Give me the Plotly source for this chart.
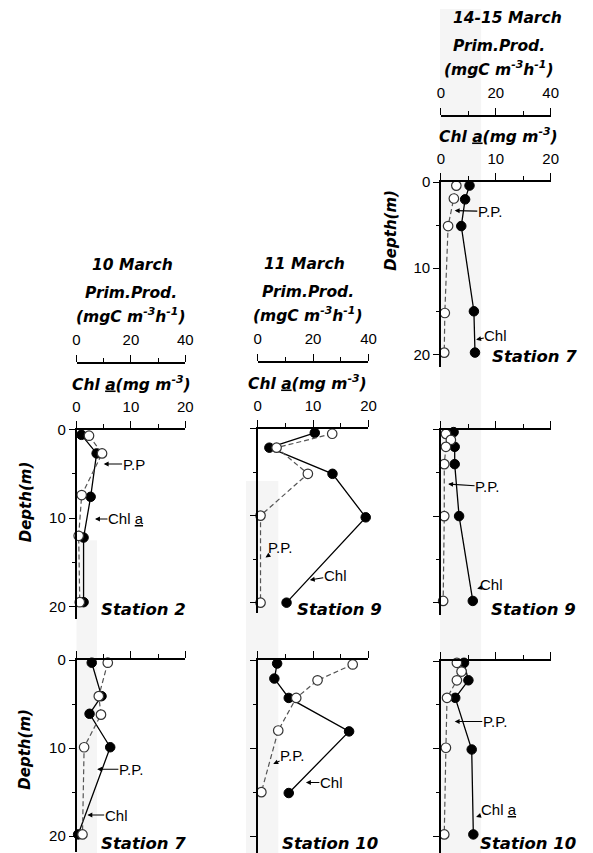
import plotly.graph_objects as go

W, H = 593, 853
FONT = "Liberation Sans, Arial, Helvetica, sans-serif"
BFONT = "DejaVu Sans, Verdana, sans-serif"

# ---------------- data ----------------
dates = ["10 March", "11 March", "14-15 March"]
stations = ["Station 2", "Station 7", "Station 9", "Station 10", "Station 7", "Station 9", "Station 10"]

# 10 March, Station 2
m10_st2_chl_depth = [0.6, 2.7, 7.6, 12.2, 19.5]
m10_st2_chl = [0.9, 3.7, 2.6, 1.3, 1.3]
m10_st2_pp_depth = [0.7, 2.7, 7.4, 12.0, 19.5]
m10_st2_pp = [4.6, 9.4, 1.9, 0.8, 1.2]

# 10 March, Station 7
m10_st7_chl_depth = [0.3, 4.1, 6.1, 9.9, 19.8]
m10_st7_chl = [2.8, 4.6, 2.4, 6.2, 0.3]
m10_st7_pp_depth = [0.3, 4.1, 6.2, 9.9, 19.8]
m10_st7_pp = [11.5, 8.2, 9.0, 2.8, 2.2]

# 11 March, Station 9
m11_st9_chl_depth = [0.5, 2.2, 5.2, 10.2, 20.0]
m11_st9_chl = [10.3, 2.1, 13.5, 19.5, 5.2]
m11_st9_pp_depth = [0.6, 2.2, 5.2, 10.0, 20.0]
m11_st9_pp = [26.9, 6.8, 18.1, 1.0, 1.0]

# 11 March, Station 10
m11_st10_chl_depth = [0.4, 2.1, 4.3, 8.1, 15.1]
m11_st10_chl = [3.5, 3.0, 5.6, 16.5, 5.6]
m11_st10_pp_depth = [0.5, 2.3, 4.3, 8.0, 15.0]
m11_st10_pp = [34.3, 21.6, 13.9, 7.4, 1.3]

# 14-15 March, Station 7
m14_st7_chl_depth = [0.4, 2.0, 5.1, 15.0, 19.8]
m14_st7_chl = [5.2, 4.4, 3.7, 6.0, 6.2]
m14_st7_pp_depth = [0.4, 1.9, 5.1, 15.2, 19.8]
m14_st7_pp = [5.6, 4.7, 2.6, 1.4, 1.2]

# 14-15 March, Station 9
m14_st9_chl_depth = [0.3, 2.0, 4.0, 10.0, 19.8]
m14_st9_chl = [2.3, 2.5, 2.5, 3.3, 5.8]
m14_st9_pp_depth = [0.5, 1.2, 2.0, 4.0, 10.0, 19.8]
m14_st9_pp = [1.8, 3.6, 1.8, 1.2, 1.2, 0.8]

# 14-15 March, Station 10
m14_st10_chl_depth = [0.2, 2.2, 4.2, 10.1, 19.8]
m14_st10_chl = [4.2, 5.0, 2.6, 5.6, 5.9]
m14_st10_pp_depth = [0.2, 1.2, 2.2, 4.2, 9.9, 19.8]
m14_st10_pp = [5.8, 7.5, 5.8, 2.2, 1.8, 1.2]

chl_ticks = [0, 10, 20]
chl_minor = [5, 15]
pp_ticks = [0, 20, 40]
pp_minor = [10, 30]
depth_ticks = [0, 10, 20]
depth_minor = [5, 15]

# ---------------- layout geometry (pixels) ----------------
cols = [
    dict(x0=74, x20=185, cx=130, tx=131),
    dict(x0=259, x20=372, cx=310, tx=307),
    dict(x0=446, x20=558, cx=505, tx=514),
]

# notes: (label, text centre x, text y, arrow head x, arrow head y)  [Chl units, m]
panels = [
    dict(col=0, chl_d=m10_st2_chl_depth, chl=m10_st2_chl, pp_d=m10_st2_pp_depth, pp=m10_st2_pp,
         y0=425, y20=604, yend=616, top=True, ylab=True, depth=(22, 498), st=(142, 607),
         notes=[("P.P", 10.5, 3.9, 5.0, 3.9), ("Chl <u>a</u>", 9.1, 10.1, 3.4, 10.1)]),
    dict(col=0, chl_d=m10_st7_chl_depth, chl=m10_st7_chl, pp_d=m10_st7_pp_depth, pp=m10_st7_pp,
         y0=658, y20=836, yend=852, top=False, ylab=True, depth=(22, 748), st=(142, 843),
         notes=[("P.P.", 10.0, 12.4, 3.8, 12.4), ("Chl", 7.3, 17.6, 2.0, 17.6)]),
    dict(col=1, chl_d=m11_st9_chl_depth, chl=m11_st9_chl, pp_d=m11_st9_pp_depth, pp=m11_st9_pp,
         y0=424, y20=600, yend=610, top=True, ylab=False, depth=None, st=(342, 607),
         notes=[("P.P.", 4.1, 13.7, 1.4, 14.8), ("Chl", 14.0, 16.9, 9.4, 17.4)]),
    dict(col=1, chl_d=m11_st10_chl_depth, chl=m11_st10_chl, pp_d=m11_st10_pp_depth, pp=m11_st10_pp,
         y0=658, y20=836, yend=853, top=False, ylab=False, depth=None, st=(333, 843),
         notes=[("P.P.", 6.2, 10.8, 2.8, 11.8), ("Chl", 13.3, 13.9, 8.7, 13.9)]),
    dict(col=2, chl_d=m14_st7_chl_depth, chl=m14_st7_chl, pp_d=m14_st7_pp_depth, pp=m14_st7_pp,
         y0=175, y20=349, yend=362, top=True, ylab=True, depth=(395, 224), st=(541, 351),
         notes=[("P.P.", 8.9, 3.4, 2.5, 3.3), ("Chl", 10.0, 17.8, 6.4, 18.3)]),
    dict(col=2, chl_d=m14_st9_chl_depth, chl=m14_st9_chl, pp_d=m14_st9_pp_depth, pp=m14_st9_pp,
         y0=425, y20=600, yend=612, top=False, ylab=False, depth=None, st=(540, 607),
         notes=[("P.P.", 8.4, 6.6, 1.3, 6.3), ("Chl", 9.2, 17.9, 6.6, 18.4)]),
    dict(col=2, chl_d=m14_st10_chl_depth, chl=m14_st10_chl, pp_d=m14_st10_pp_depth, pp=m14_st10_pp,
         y0=659, y20=836, yend=853, top=False, ylab=False, depth=None, st=(535, 843),
         notes=[("P.P.", 9.8, 6.9, 2.5, 6.9), ("Chl <u>a</u>", 10.6, 17.0, 6.4, 17.8)]),
]

fig = go.Figure()
layout = {}
annotations = []
shapes = []


def px(x):
    return x / W


def py(y):
    return 1 - y / H


def ax_name(kind, k):
    return (kind + "axis") if k == 1 else f"{kind}axis{k}"


def ax_ref(kind, k):
    return kind if k == 1 else f"{kind}{k}"


tickfont = dict(family=FONT, size=15, color="black")
line_kw = dict(showline=True, linecolor="black", linewidth=1.5, showgrid=False, zeroline=False,
               ticks="outside", tickcolor="black", tickwidth=1.3, fixedrange=True)

# faint scanning bands
for (bx0, bx1, by0, by1) in [(74, 95, 537, 853), (247, 280, 477, 853), (445, 487, 0, 853)]:
    shapes.append(dict(type="rect", xref="paper", yref="paper", x0=px(bx0), x1=px(bx1),
                       y0=py(by1), y1=py(by0), fillcolor="rgba(0,0,0,0.04)", line=dict(width=0),
                       layer="below"))

for i, p in enumerate(panels):
    n = i + 1
    c = cols[p["col"]]
    kx, kp, ky = 2 * n - 1, 2 * n, n
    xr, pr, yr = ax_ref("x", kx), ax_ref("x", kp), ax_ref("y", ky)
    s = (p["y20"] - p["y0"]) / 20.0
    ybot = (p["yend"] - p["y0"]) / s
    dom_x = [px(c["x0"]), px(c["x20"])]

    layout[ax_name("x", kx)] = dict(
        domain=dom_x, range=[0, 20], anchor=yr, side="top", tickvals=chl_ticks,
        showticklabels=p["top"], tickfont=tickfont, ticklen=7, ticklabelstandoff=3,
        minor=dict(tickvals=chl_minor, ticks="outside", ticklen=4, tickwidth=1.3, tickcolor="black"),
        **line_kw)
    if p["top"]:
        layout[ax_name("x", kp)] = dict(
            domain=dom_x, overlaying=xr, range=[0, 40], anchor="free", position=py(p["y0"] - 67),
            side="top", tickvals=pp_ticks, tickfont=tickfont, ticklen=7, ticklabelstandoff=4,
            minor=dict(tickvals=pp_minor, ticks="outside", ticklen=4, tickwidth=1.3, tickcolor="black"),
            **line_kw)
    else:
        layout[ax_name("x", kp)] = dict(domain=dom_x, overlaying=xr, range=[0, 40], anchor=yr,
                                        visible=False, fixedrange=True)
    layout[ax_name("y", ky)] = dict(
        domain=[py(p["yend"]), py(p["y0"])], range=[ybot, 0], anchor=xr, side="left",
        tickvals=depth_ticks, showticklabels=p["ylab"], tickfont=tickfont, ticklen=6,
        minor=dict(tickvals=depth_minor, ticks="outside", ticklen=3, tickwidth=1.3, tickcolor="black"),
        **line_kw)

    fig.add_trace(go.Scatter(
        x=p["chl"], y=p["chl_d"], xaxis=xr, yaxis=yr, mode="lines+markers", cliponaxis=False,
        line=dict(color="black", width=1.3),
        marker=dict(size=9.5, color="black", line=dict(color="black", width=1)),
        showlegend=False, hoverinfo="skip"))
    fig.add_trace(go.Scatter(
        x=p["pp"], y=p["pp_d"], xaxis=pr, yaxis=yr, mode="lines+markers", cliponaxis=False,
        line=dict(color="#555555", width=1.2, dash="5px,3px"),
        marker=dict(size=9.5, color="white", line=dict(color="#333333", width=1.2)),
        showlegend=False, hoverinfo="skip"))

    for (txt, tx, ty, hx, hy) in p["notes"]:
        annotations.append(dict(xref=xr, yref=yr, x=hx, y=hy, ax=tx, ay=ty, axref=xr, ayref=yr,
                                text=txt, showarrow=True, arrowhead=2, arrowsize=0.9,
                                arrowwidth=1.1, arrowcolor="black", standoff=0, borderpad=0,
                                font=dict(family=FONT, size=15, color="black")))

    sx, sy = p["st"]
    annotations.append(dict(xref="paper", yref="paper", x=px(sx), y=py(sy),
                            text=f"<b><i>{stations[i]}</i></b>", showarrow=False,
                            xanchor="center", yanchor="middle",
                            font=dict(family=BFONT, size=16.5, color="black")))
    if p["depth"]:
        dx, dy = p["depth"]
        annotations.append(dict(xref="paper", yref="paper", x=px(dx), y=py(dy),
                                text="<b><i>Depth(m)</i></b>", showarrow=False, textangle=-90,
                                xanchor="center", yanchor="middle",
                                font=dict(family=BFONT, size=15, color="black")))

# column headers
for j, c in enumerate(cols):
    top_panel = [p for p in panels if p["col"] == j and p["top"]][0]
    y0 = top_panel["y0"]
    heads = [
        (c["tx"], y0 - 166, f"<b><i>{dates[j]}</i></b>"),
        (c["cx"], y0 - 138, "<b><i>Prim.Prod.</i></b>"),
        (c["cx"], y0 - 115, "<b><i>(mgC m<sup>-3</sup>h<sup>-1</sup>)</i></b>"),
        (c["cx"], y0 - 47, "<b><i>Chl <u>a</u>(mg m<sup>-3</sup>)</i></b>"),
    ]
    for (hx, hy, txt) in heads:
        annotations.append(dict(xref="paper", yref="paper", x=px(hx), y=py(hy), text=txt,
                                showarrow=False, xanchor="center", yanchor="middle",
                                font=dict(family=BFONT, size=15.5, color="black")))

layout.update(dict(width=W, height=H, margin=dict(l=0, r=0, t=0, b=0), paper_bgcolor="white",
                   plot_bgcolor="rgba(0,0,0,0)", showlegend=False, annotations=annotations,
                   shapes=shapes))
fig.update_layout(**layout)
fig.write_html("out.html", config={"displayModeBar": False})
